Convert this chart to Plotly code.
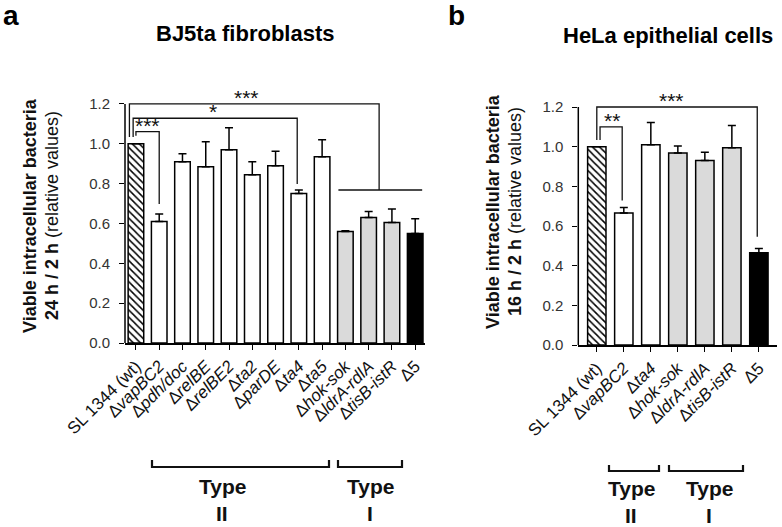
import plotly.graph_objects as go

FONT = "Arial, Liberation Sans, sans-serif"
W, H = 782, 527

# ---------------- data ----------------
a_labels = ["SL 1344 (wt)", "Δ<i>vapBC2</i>", "Δ<i>pdh/doc</i>", "Δ<i>relBE</i>",
            "Δ<i>relBE2</i>", "Δ<i>ta2</i>", "Δ<i>parDE</i>", "Δ<i>ta4</i>",
            "Δ<i>ta5</i>", "Δ<i>hok-sok</i>", "Δ<i>ldrA-rdlA</i>", "Δ<i>tisB-istR</i>", "Δ5"]
a_values = [1.0, 0.61, 0.91, 0.885, 0.97, 0.845, 0.89, 0.75, 0.935, 0.56, 0.63, 0.605, 0.55]
a_err = [0.0, 0.038, 0.04, 0.125, 0.11, 0.065, 0.073, 0.018, 0.085, 0.004, 0.03, 0.068, 0.074]
a_kind = ["wt", "II", "II", "II", "II", "II", "II", "II", "II", "I", "I", "I", "all"]

b_labels = ["SL 1344 (wt)", "Δ<i>vapBC2</i>", "Δ<i>ta4</i>", "Δ<i>hok-sok</i>",
            "Δ<i>ldrA-rdlA</i>", "Δ<i>tisB-istR</i>", "Δ5"]
b_values = [1.0, 0.665, 1.01, 0.968, 0.93, 0.995, 0.465]
b_err = [0.0, 0.028, 0.112, 0.035, 0.042, 0.112, 0.022]
b_kind = ["wt", "II", "II", "I", "I", "I", "all"]

y_ticks = [0.0, 0.2, 0.4, 0.6, 0.8, 1.0, 1.2]

# significance brackets: (x_left, x_right, level, left_end, right_end, label, label_x, label_y)
a_sig = [
    (-0.28, 10.45, 1.2, 1.034, 0.768, "***", 4.74, 1.2),
    (-0.12, 6.93, 1.128, 1.034, 0.798, "*", 3.33, 1.128),
    (0.0, 1.0, 1.061, 1.04, 0.698, "***", 0.5, 1.061),
]
a_group_line = (8.7, 12.3, 0.768)
b_sig = [
    (0.0, 5.94, 1.2, 1.034, 0.546, "***", 2.75, 1.2),
    (0.12, 0.94, 1.10, 1.034, 0.728, "**", 0.55, 1.10),
]

FILL = {"wt": "white", "II": "white", "I": "#dadada", "all": "black"}


def bar_traces(values, err, kind, xa, ya, width):
    traces = []
    for style in ["plain", "hatch"]:
        idx = [i for i, k in enumerate(kind) if (k == "wt") == (style == "hatch")]
        marker = dict(color=[FILL[kind[i]] for i in idx],
                      line=dict(color="black", width=1.5))
        if style == "hatch":
            marker = dict(color="white", line=dict(color="black", width=1.5),
                          pattern=dict(shape="\\", fillmode="replace", fgcolor="black",
                                       bgcolor="white", size=5, solidity=0.3))
        traces.append(go.Bar(
            x=idx, y=[values[i] for i in idx], width=width, marker=marker,
            error_y=dict(type="data", symmetric=False, array=[err[i] for i in idx],
                         arrayminus=[0] * len(idx), color="black", thickness=1.5, width=4),
            xaxis=xa, yaxis=ya, showlegend=False, hoverinfo="skip",
        ))
    return traces


fig = go.Figure()
for t in bar_traces(a_values, a_err, a_kind, "x", "y", 0.67):
    fig.add_trace(t)
for t in bar_traces(b_values, b_err, b_kind, "x2", "y2", 0.68):
    fig.add_trace(t)

axis_common = dict(showgrid=False, zeroline=False, ticks="outside", ticklen=5,
                   tickwidth=1.3, tickcolor="black", automargin=False)

ax_a_left = 125 / W
ax_b_left = 578.3 / W

fig.update_layout(
    template="none",
    width=W, height=H, margin=dict(l=0, r=0, t=0, b=0, pad=0),
    paper_bgcolor="white", plot_bgcolor="white",
    font=dict(family=FONT, color="#111"),
    barmode="overlay",
    xaxis=dict(domain=[ax_a_left, 424.5 / W], range=[-0.47, 12.4], anchor="y",
               tickvals=list(range(len(a_labels))), ticktext=a_labels, tickangle=-45,
               tickfont=dict(size=17, color="#111"), showline=True, linecolor="black",
               linewidth=1.5, **axis_common),
    yaxis=dict(domain=[1 - 343 / H, 1 - 80 / H], range=[0, 1.32], anchor="x",
               tickvals=y_ticks, tickformat=".1f", tickfont=dict(size=15, color="#333"),
               ticklabelstandoff=6, showline=False, **axis_common),
    xaxis2=dict(domain=[ax_b_left, 776.7 / W], range=[-0.685, 6.66], anchor="y2",
                tickvals=list(range(len(b_labels))), ticktext=b_labels, tickangle=-45,
                tickfont=dict(size=17, color="#111"), showline=True, linecolor="black",
                linewidth=1.5, **axis_common),
    yaxis2=dict(domain=[1 - 345 / H, 1 - 83.2 / H], range=[0, 1.32], anchor="x2",
                tickvals=y_ticks, tickformat=".1f", tickfont=dict(size=15, color="#333"),
                ticklabelstandoff=6, showline=False, **axis_common),
)

shapes = []
LINE = dict(color="#111", width=1.3)
# y-axis lines from 0 to 1.2
shapes.append(dict(type="line", xref="paper", yref="y", x0=ax_a_left, x1=ax_a_left,
                   y0=0, y1=y_ticks[-1], line=dict(color="black", width=1.5)))
shapes.append(dict(type="line", xref="paper", yref="y2", x0=ax_b_left, x1=ax_b_left,
                   y0=0, y1=y_ticks[-1], line=dict(color="black", width=1.5)))

annotations = []


def add_sig(sig, xr, yr):
    for (xl, xrr, lvl, le, re, lab, lx, ly) in sig:
        shapes.append(dict(type="path", xref=xr, yref=yr,
                           path=f"M {xl},{le} L {xl},{lvl} L {xrr},{lvl} L {xrr},{re}",
                           line=LINE))
        annotations.append(dict(xref=xr, yref=yr, x=lx, y=ly, text=lab, showarrow=False,
                                xanchor="center", yanchor="bottom", yshift=-7,
                                font=dict(size=21, color="#111", family=FONT)))


add_sig(a_sig, "x", "y")
add_sig(b_sig, "x2", "y2")
gx0, gx1, gy = a_group_line
shapes.append(dict(type="line", xref="x", yref="y", x0=gx0, x1=gx1, y0=gy, y1=gy, line=LINE))


# Type brackets below axes (paper pixels)
def px(x):
    return x / W


def py(y):
    return 1 - y / H


type_brackets = [
    (152, 329, 460, 467, "Type", "II", 222, 486, 513),
    (338, 402, 460, 467, "Type", "I", 370, 486, 513),
    (609, 659, 465, 471, "Type", "II", 631, 488, 515),
    (669, 743, 465, 471, "Type", "I", 709, 488, 515),
]
for (x0, x1, yt, yb, t1, t2, tx, ty1, ty2) in type_brackets:
    shapes.append(dict(type="path", xref="paper", yref="paper",
                       path=f"M {px(x0)},{py(yt)} L {px(x0)},{py(yb)} L {px(x1)},{py(yb)} L {px(x1)},{py(yt)}",
                       line=dict(color="#111", width=2.2)))
    annotations.append(dict(xref="paper", yref="paper", x=px(tx), y=py(ty1), text=f"<b>{t1}</b>",
                            xanchor="center", yanchor="middle",
                            showarrow=False, font=dict(size=21, color="#111")))
    annotations.append(dict(xref="paper", yref="paper", x=px(tx), y=py(ty2), text=f"<b>{t2}</b>",
                            xanchor="center", yanchor="middle",
                            showarrow=False, font=dict(size=21, color="#111")))

# panel letters (anchored at top edge)
for (x, txt) in [(11, "<b>a</b>"), (456, "<b>b</b>")]:
    annotations.append(dict(xref="paper", yref="paper", x=px(x), y=1, text=txt,
                            xanchor="center", yanchor="top", yshift=1, borderpad=0,
                            showarrow=False, font=dict(size=28, color="black")))
# titles
for (x, y, txt) in [(245, 33, "<b>BJ5ta fibroblasts</b>"),
                    (667.5, 35, "<b>HeLa epithelial cells</b>")]:
    annotations.append(dict(xref="paper", yref="paper", x=px(x), y=py(y), text=txt,
                            xanchor="center", yanchor="middle", showarrow=False,
                            font=dict(size=22, color="black")))

# y-axis titles
for (x1l, x2l, yc, hours) in [(30, 52, 216, "24 h / 2 h"), (493, 515, 212, "16 h / 2 h")]:
    annotations.append(dict(xref="paper", yref="paper", x=px(x1l), y=py(yc), textangle=-90,
                            xanchor="center", yanchor="middle",
                            text="<b>Viable intracellular bacteria</b>", showarrow=False,
                            font=dict(size=18, color="#111")))
    annotations.append(dict(xref="paper", yref="paper", x=px(x2l), y=py(yc), textangle=-90,
                            xanchor="center", yanchor="middle",
                            text=f"<b>{hours}</b> (relative values)", showarrow=False,
                            font=dict(size=18, color="#111")))

fig.update_layout(shapes=shapes, annotations=annotations)
fig.write_html("out.html", config={"displayModeBar": False},
               post_script="document.body.style.margin='0';document.body.style.overflow='hidden';")
